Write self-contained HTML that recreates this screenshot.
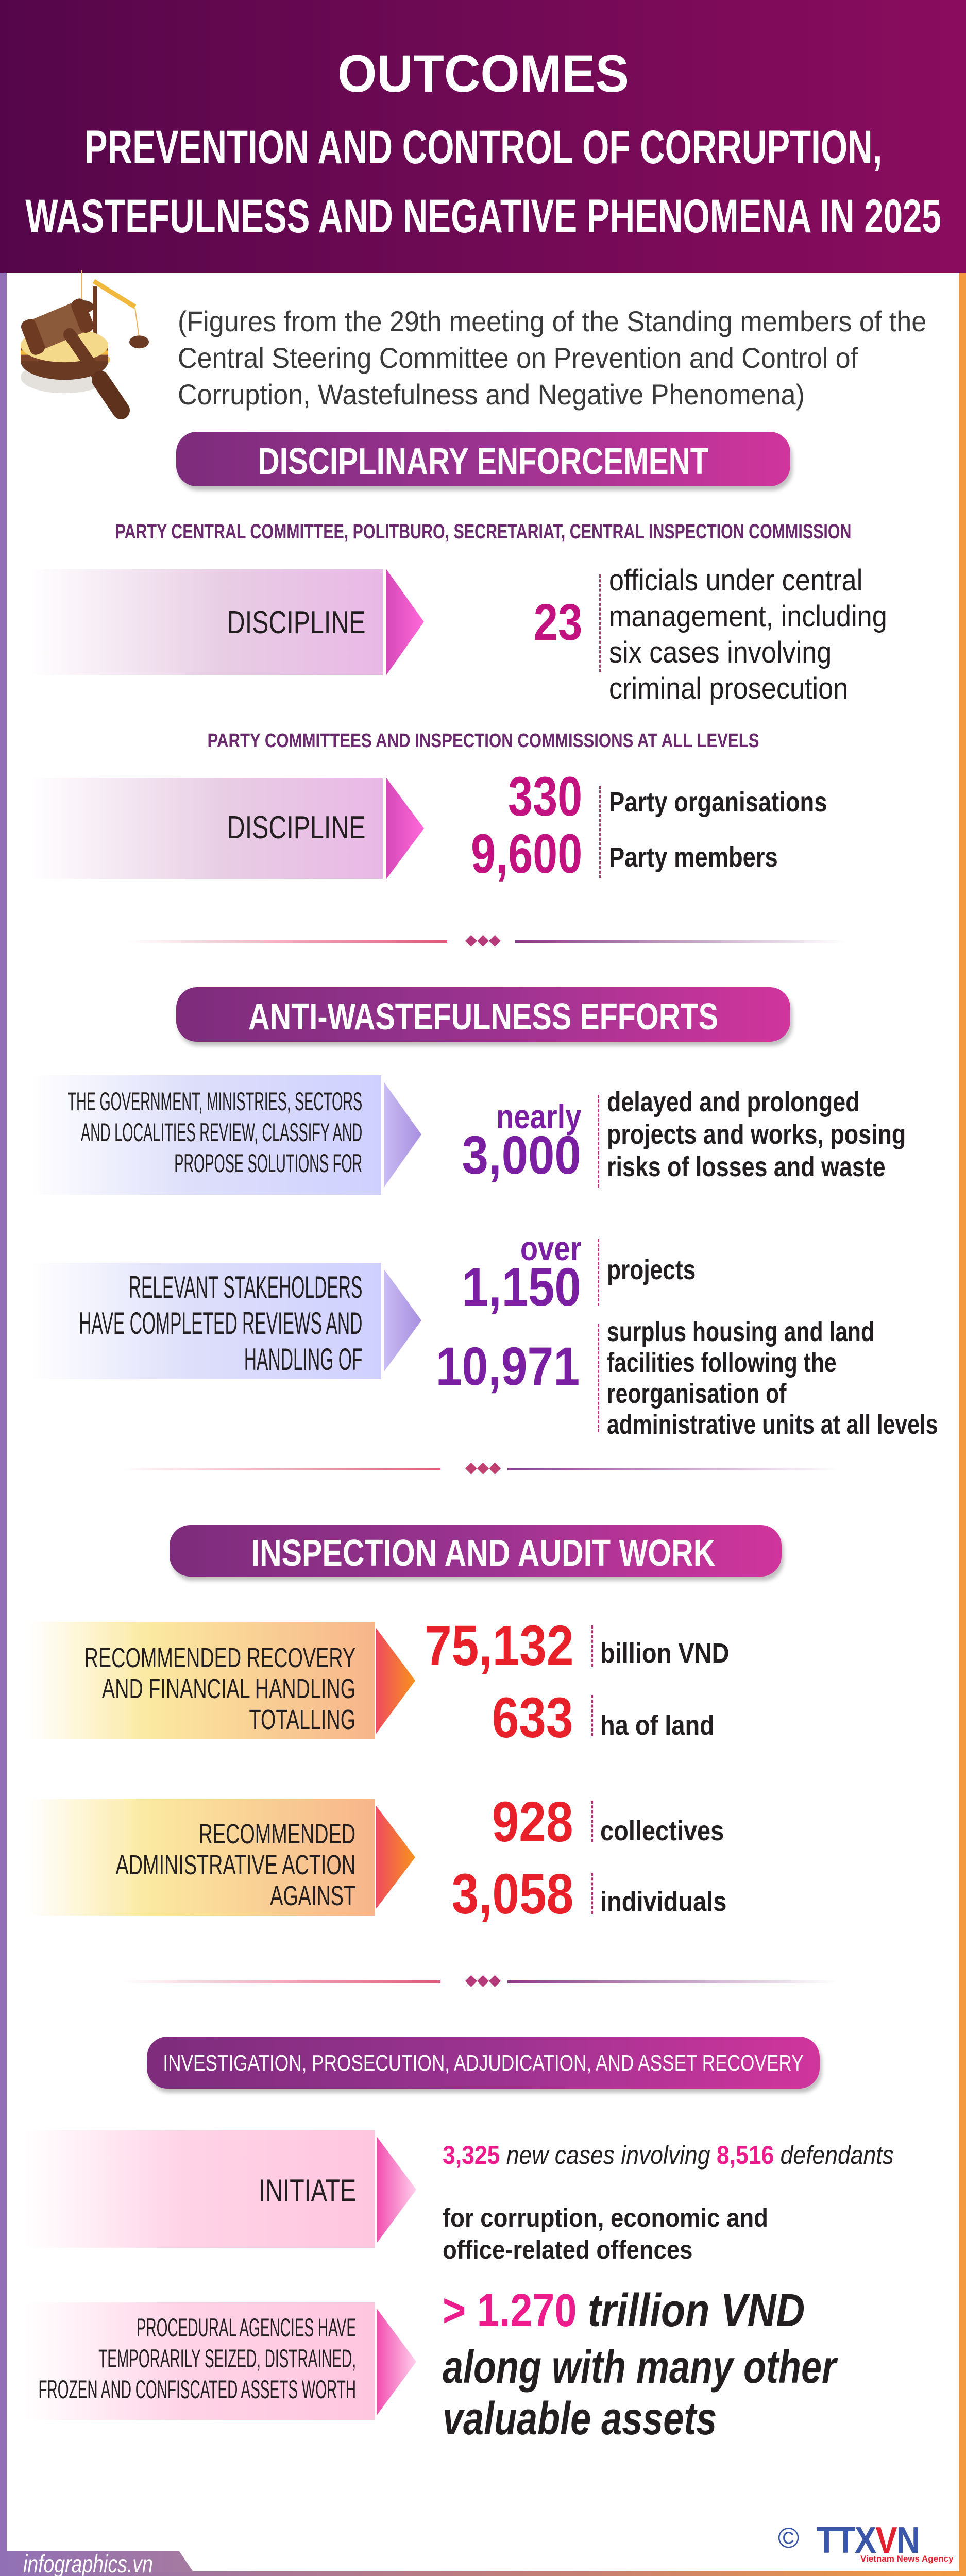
<!DOCTYPE html>
<html style="overflow:hidden"><head><meta charset="utf-8">
<style>
*{margin:0;padding:0;box-sizing:border-box}
html,body{width:1875px;height:5009px;overflow:hidden}
body{position:relative;background:#fff;font-family:"Liberation Sans",sans-serif;color:#231f20}
.a{position:absolute;white-space:nowrap;line-height:1}
.cx{left:50%;transform-origin:center}
.r{transform-origin:right center}
.l{transform-origin:left center}
.banner{position:absolute;border-radius:40px;background:linear-gradient(90deg,#7e2c7c,#9a3390 50%,#d0359c);box-shadow:4px 8px 8px rgba(0,0,0,.25)}
.box{position:absolute}
.arrow{position:absolute}
.num{font-weight:bold;position:absolute;white-space:nowrap;line-height:1;transform-origin:right center}
.dash{position:absolute;width:0;border-left:3px dashed #b0366f}
</style></head><body>
<div style="position:absolute;left:0;top:0;width:1875px;height:529px;background:linear-gradient(90deg,#55064a,#700a55 50%,#8a0c5e)"></div>
<div class="a cx" style="top:92px;font-size:102px;font-weight:bold;color:#fff;transform:translateX(-50%) scaleX(0.96)">OUTCOMES</div>
<div class="a cx" style="top:240px;font-size:92px;font-weight:bold;color:#fff;transform:translateX(-50%) scaleX(0.73)">PREVENTION AND CONTROL OF CORRUPTION,</div>
<div class="a cx" style="top:374px;font-size:92px;font-weight:bold;color:#fff;transform:translateX(-50%) scaleX(0.73)">WASTEFULNESS AND NEGATIVE PHENOMENA IN 2025</div>
<div style="position:absolute;left:0;top:529px;width:13px;height:4462px;background:#9170b5"></div>
<div style="position:absolute;left:1862px;top:529px;width:13px;height:4462px;background:#f39a3e"></div>
<svg style="position:absolute;left:30px;top:525px" width="260" height="290" viewBox="0 0 260 280" preserveAspectRatio="none">
<ellipse cx="95" cy="200" rx="85" ry="30" fill="#e4e1dc"/>
<line x1="152" y1="20" x2="232" y2="68" stroke="#f0b83c" stroke-width="9"/>
<rect x="150" y="30" width="8" height="140" fill="#6e3b22"/>
<ellipse cx="154" cy="167" rx="30" ry="12" fill="#f0c25a"/>
<line x1="128" y1="0" x2="128" y2="60" stroke="#e8b55c" stroke-width="2"/>
<ellipse cx="132" cy="68" rx="20" ry="12" fill="#6a3a22"/>
<line x1="232" y1="70" x2="240" y2="125" stroke="#e8b55c" stroke-width="2"/>
<ellipse cx="240" cy="134" rx="19" ry="12" fill="#6a3a22"/>
<ellipse cx="95" cy="170" rx="85" ry="35" fill="#6a3a22"/>
<rect x="10" y="140" width="170" height="30" fill="#7b4428"/>
<rect x="10" y="150" width="170" height="8" fill="#f0b83c"/>
<ellipse cx="95" cy="140" rx="85" ry="32" fill="#f5d98b"/>
<g transform="rotate(-22 80 105)"><rect x="25" y="75" width="110" height="60" rx="10" fill="#8a5a3a"/><rect x="15" y="72" width="30" height="68" rx="12" fill="#6e3b22"/><rect x="120" y="72" width="28" height="66" rx="12" fill="#6e3b22"/></g>
<line x1="105" y1="120" x2="195" y2="245" stroke="#6a3a22" stroke-width="24" stroke-linecap="round"/>
<line x1="165" y1="205" x2="205" y2="262" stroke="#5e321c" stroke-width="34" stroke-linecap="round"/>
</svg>
<div class="a l" style="left:345px;top:588px;font-size:56px;color:#3a3a3a;line-height:71px;transform:scaleX(0.93)">(Figures from the 29th meeting of the Standing members of the<br>Central Steering Committee on Prevention and Control of<br>Corruption, Wastefulness and Negative Phenomena)</div>

<div class="banner" style="left:342px;top:838px;width:1192px;height:106px"></div>
<div class="a cx" style="top:860px;font-size:72px;font-weight:bold;color:#fff;transform:translateX(-50%) scaleX(0.81)">DISCIPLINARY ENFORCEMENT</div>
<div class="a cx" style="top:1012px;font-size:40px;font-weight:bold;color:#6b2a6e;transform:translateX(-50%) scaleX(0.76)">PARTY CENTRAL COMMITTEE, POLITBURO, SECRETARIAT, CENTRAL INSPECTION COMMISSION</div>

<div class="box" style="left:57px;top:1105px;width:686px;height:205px;background:linear-gradient(90deg,#fff,#e8cde4 55%,#e9b8e6)"></div>
<svg class="arrow" style="left:745px;top:1105px" width="80" height="205"><defs><linearGradient id="g1" x1="0" x2="1"><stop offset="0" stop-color="#d648b8"/><stop offset="1" stop-color="#ff6ad8"/></linearGradient></defs><polygon points="5,0 78,102 5,205" fill="url(#g1)"/></svg>
<div class="a r" style="right:1165px;top:1178px;font-size:62px;transform:scaleX(0.78)">DISCIPLINE</div>
<div class="num" style="right:745px;top:1158px;font-size:100px;color:#c1127f;transform:scaleX(0.85)">23</div>
<div class="dash" style="left:1163px;top:1115px;height:190px"></div>
<div class="a l" style="left:1182px;top:1092px;font-size:58px;line-height:70px;transform:scaleX(0.9)">officials under central<br>management, including<br>six cases involving<br>criminal prosecution</div>

<div class="a cx" style="top:1419px;font-size:38px;font-weight:bold;color:#6b2a6e;transform:translateX(-50%) scaleX(0.82)">PARTY COMMITTEES AND INSPECTION COMMISSIONS AT ALL LEVELS</div>

<div class="box" style="left:57px;top:1510px;width:686px;height:196px;background:linear-gradient(90deg,#fff,#e8cde4 55%,#e9b8e6)"></div>
<svg class="arrow" style="left:745px;top:1510px" width="80" height="196"><polygon points="5,0 78,98 5,196" fill="url(#g1)"/></svg>
<div class="a r" style="right:1165px;top:1576px;font-size:62px;transform:scaleX(0.78)">DISCIPLINE</div>
<div class="num" style="right:745px;top:1492px;font-size:108px;color:#c1127f;transform:scaleX(0.8)">330</div>
<div class="num" style="right:745px;top:1603px;font-size:108px;color:#c1127f;transform:scaleX(0.8)">9,600</div>
<div class="dash" style="left:1163px;top:1525px;height:180px"></div>
<div class="a l" style="left:1182px;top:1530px;font-size:54px;font-weight:bold;transform:scaleX(0.84)">Party organisations</div>
<div class="a l" style="left:1182px;top:1637px;font-size:54px;font-weight:bold;transform:scaleX(0.84)">Party members</div>

<div style="position:absolute;left:248px;top:1825px;width:620px;height:5px;background:linear-gradient(90deg,rgba(150,60,150,0),#e05a7a)"></div>
<div style="position:absolute;left:1000px;top:1825px;width:640px;height:5px;background:linear-gradient(90deg,#8a3a8a,rgba(220,90,120,0))"></div>
<div class="a cx" style="top:1810px;font-size:30px;color:#b43a7a;transform:translateX(-50%)">◆◆◆</div>

<div class="banner" style="left:342px;top:1916px;width:1192px;height:106px"></div>
<div class="a cx" style="top:1938px;font-size:72px;font-weight:bold;color:#fff;transform:translateX(-50%) scaleX(0.8)">ANTI-WASTEFULNESS EFFORTS</div>

<div class="box" style="left:60px;top:2087px;width:680px;height:232px;background:linear-gradient(90deg,#fff,#dedffa 45%,#cfd0ff)"></div>
<svg class="arrow" style="left:742px;top:2100px" width="80" height="205"><defs><linearGradient id="g2" x1="0" x2="1"><stop offset="0" stop-color="#c8bcf2"/><stop offset="1" stop-color="#a88fe0"/></linearGradient></defs><polygon points="3,0 76,102 3,205" fill="url(#g2)"/></svg>
<div class="a r" style="right:1172px;top:2108px;font-size:50px;line-height:60px;text-align:right;transform:scaleX(0.545)">THE GOVERNMENT, MINISTRIES, SECTORS<br>AND LOCALITIES REVIEW, CLASSIFY AND<br>PROPOSE SOLUTIONS FOR</div>
<div class="num" style="right:747px;top:2134px;font-size:66px;color:#7b1fa2;transform:scaleX(0.85)">nearly</div>
<div class="num" style="right:747px;top:2190px;font-size:105px;color:#7b1fa2;transform:scaleX(0.88)">3,000</div>
<div class="dash" style="left:1160px;top:2125px;height:180px"></div>
<div class="a l" style="left:1178px;top:2108px;font-size:54px;font-weight:bold;line-height:63px;transform:scaleX(0.83)">delayed and prolonged<br>projects and works, posing<br>risks of losses and waste</div>

<div class="box" style="left:60px;top:2451px;width:680px;height:226px;background:linear-gradient(90deg,#fff,#dedffa 45%,#cfd0ff)"></div>
<svg class="arrow" style="left:742px;top:2463px" width="80" height="200"><polygon points="3,0 76,100 3,200" fill="url(#g2)"/></svg>
<div class="a r" style="right:1172px;top:2464px;font-size:60px;line-height:70px;text-align:right;transform:scaleX(0.56)">RELEVANT STAKEHOLDERS<br>HAVE COMPLETED REVIEWS AND<br>HANDLING OF</div>
<div class="num" style="right:747px;top:2390px;font-size:66px;color:#7b1fa2;transform:scaleX(0.85)">over</div>
<div class="num" style="right:747px;top:2446px;font-size:105px;color:#7b1fa2;transform:scaleX(0.88)">1,150</div>
<div class="num" style="right:750px;top:2600px;font-size:105px;color:#7b1fa2;transform:scaleX(0.87)">10,971</div>
<div class="dash" style="left:1160px;top:2405px;height:130px"></div>
<div class="dash" style="left:1160px;top:2570px;height:210px"></div>
<div class="a l" style="left:1178px;top:2438px;font-size:54px;font-weight:bold;transform:scaleX(0.82)">projects</div>
<div class="a l" style="left:1178px;top:2555px;font-size:54px;font-weight:bold;line-height:60px;transform:scaleX(0.79)">surplus housing and land<br>facilities following the<br>reorganisation of<br>administrative units at all levels</div>

<div style="position:absolute;left:235px;top:2849px;width:620px;height:5px;background:linear-gradient(90deg,rgba(150,60,150,0),#e05a7a)"></div>
<div style="position:absolute;left:985px;top:2849px;width:640px;height:5px;background:linear-gradient(90deg,#8a3a8a,rgba(220,90,120,0))"></div>
<div class="a cx" style="top:2834px;font-size:30px;color:#c04070;transform:translateX(-50%)">◆◆◆</div>

<div class="banner" style="left:329px;top:2960px;width:1188px;height:100px"></div>
<div class="a cx" style="top:2979px;font-size:72px;font-weight:bold;color:#fff;transform:translateX(-50%) scaleX(0.82)">INSPECTION AND AUDIT WORK</div>

<div class="box" style="left:55px;top:3148px;width:673px;height:228px;background:linear-gradient(90deg,#fff,#fbe9a0 35%,#f7b58a)"></div>
<svg class="arrow" style="left:728px;top:3160px" width="80" height="205"><defs><linearGradient id="g3" x1="0" x2="1"><stop offset="0" stop-color="#ef4a5e"/><stop offset="1" stop-color="#f7931e"/></linearGradient></defs><polygon points="2,0 78,102 2,205" fill="url(#g3)"/></svg>
<div class="a r" style="right:1185px;top:3188px;font-size:54px;line-height:60px;text-align:right;transform:scaleX(0.7)">RECOMMENDED RECOVERY<br>AND FINANCIAL HANDLING<br>TOTALLING</div>
<div class="num" style="right:762px;top:3140px;font-size:110px;color:#e8202a;transform:scaleX(0.86)">75,132</div>
<div class="num" style="right:762px;top:3280px;font-size:110px;color:#e8202a;transform:scaleX(0.86)">633</div>
<div class="dash" style="left:1148px;top:3155px;height:80px"></div>
<div class="dash" style="left:1148px;top:3290px;height:80px"></div>
<div class="a l" style="left:1165px;top:3182px;font-size:54px;font-weight:bold;transform:scaleX(0.87)">billion VND</div>
<div class="a l" style="left:1165px;top:3322px;font-size:54px;font-weight:bold;transform:scaleX(0.87)">ha of land</div>

<div class="box" style="left:55px;top:3492px;width:673px;height:226px;background:linear-gradient(90deg,#fff,#fbe9a0 35%,#f7b58a)"></div>
<svg class="arrow" style="left:728px;top:3505px" width="80" height="200"><polygon points="2,0 78,100 2,200" fill="url(#g3)"/></svg>
<div class="a r" style="right:1185px;top:3530px;font-size:54px;line-height:60px;text-align:right;transform:scaleX(0.7)">RECOMMENDED<br>ADMINISTRATIVE ACTION<br>AGAINST</div>
<div class="num" style="right:762px;top:3482px;font-size:110px;color:#e8202a;transform:scaleX(0.86)">928</div>
<div class="num" style="right:762px;top:3622px;font-size:110px;color:#e8202a;transform:scaleX(0.86)">3,058</div>
<div class="dash" style="left:1148px;top:3495px;height:80px"></div>
<div class="dash" style="left:1148px;top:3635px;height:80px"></div>
<div class="a l" style="left:1165px;top:3527px;font-size:54px;font-weight:bold;transform:scaleX(0.87)">collectives</div>
<div class="a l" style="left:1165px;top:3664px;font-size:54px;font-weight:bold;transform:scaleX(0.87)">individuals</div>

<div style="position:absolute;left:235px;top:3844px;width:620px;height:5px;background:linear-gradient(90deg,rgba(150,60,150,0),#e05a7a)"></div>
<div style="position:absolute;left:985px;top:3844px;width:640px;height:5px;background:linear-gradient(90deg,#8a3a8a,rgba(220,90,120,0))"></div>
<div class="a cx" style="top:3829px;font-size:30px;color:#b43a7a;transform:translateX(-50%)">◆◆◆</div>

<div class="banner" style="left:285px;top:3953px;width:1306px;height:101px"></div>
<div class="a cx" style="top:3983px;font-size:44px;color:#fff;transform:translateX(-50%) scaleX(0.8)">INVESTIGATION, PROSECUTION, ADJUDICATION, AND ASSET RECOVERY</div>

<div class="box" style="left:48px;top:4135px;width:680px;height:228px;background:linear-gradient(90deg,#fff,#ffd3e6 45%,#ffc6df)"></div>
<svg class="arrow" style="left:730px;top:4148px" width="80" height="205"><defs><linearGradient id="g4" x1="0" x2="1"><stop offset="0" stop-color="#f24fb0"/><stop offset="1" stop-color="#ffd0ec"/></linearGradient></defs><polygon points="2,0 78,102 2,205" fill="url(#g4)"/></svg>
<div class="a r" style="right:1184px;top:4222px;font-size:60px;transform:scaleX(0.78)">INITIATE</div>
<div class="a l" style="left:859px;top:4158px;font-size:50px;font-style:italic;transform:scaleX(0.89)"><b style="color:#ec1c8c;font-style:normal">3,325</b> new cases involving <b style="color:#ec1c8c;font-style:normal">8,516</b> defendants</div>
<div class="a l" style="left:859px;top:4274px;font-size:50px;font-weight:bold;line-height:62px;transform:scaleX(0.91)">for corruption, economic and<br>office-related offences</div>

<div class="box" style="left:48px;top:4469px;width:680px;height:228px;background:linear-gradient(90deg,#fff,#ffd3e6 45%,#ffc6df)"></div>
<svg class="arrow" style="left:730px;top:4482px" width="80" height="205"><polygon points="2,0 78,102 2,205" fill="url(#g4)"/></svg>
<div class="a r" style="right:1184px;top:4488px;font-size:50px;line-height:60px;text-align:right;transform:scaleX(0.56)">PROCEDURAL AGENCIES HAVE<br>TEMPORARILY SEIZED, DISTRAINED,<br>FROZEN AND CONFISCATED ASSETS WORTH</div>
<div class="a l" style="left:859px;top:4440px;font-size:90px;font-weight:bold;font-style:italic;transform:scaleX(0.86)"><span style="color:#ec1c8c;font-style:normal">&gt; 1.270</span> trillion VND</div>
<div class="a l" style="left:859px;top:4545px;font-size:90px;font-weight:bold;font-style:italic;line-height:100px;transform:scaleX(0.8)">along with many other<br>valuable assets</div>

<div style="position:absolute;left:0;top:4991px;width:1875px;height:18px;background:linear-gradient(90deg,#9170b5,#c58073 60%,#f39a3e)"></div>
<div style="position:absolute;left:0;top:4952px;width:375px;height:40px;background:linear-gradient(90deg,#9170b5,#a57aa0);clip-path:polygon(0 0,348px 0,375px 100%,0 100%)"></div>
<div class="a l" style="left:45px;top:4953px;font-size:48px;line-height:50px;height:56px;font-style:italic;color:#fff;transform:scaleX(0.78)">infographics.vn</div>
<div class="a" style="left:1510px;top:4898px;font-size:56px;color:#3a56a8">©</div>
<div class="a l" style="left:1585px;top:4895px;font-size:72px;font-weight:900;color:#3a56a8;letter-spacing:-2px;transform:scaleX(0.88)">TTX<span style="color:#e02230">V</span>N</div>
<div class="a l" style="left:1670px;top:4958px;font-size:17px;font-weight:bold;color:#e02230">Vietnam News Agency</div>
</body></html>
